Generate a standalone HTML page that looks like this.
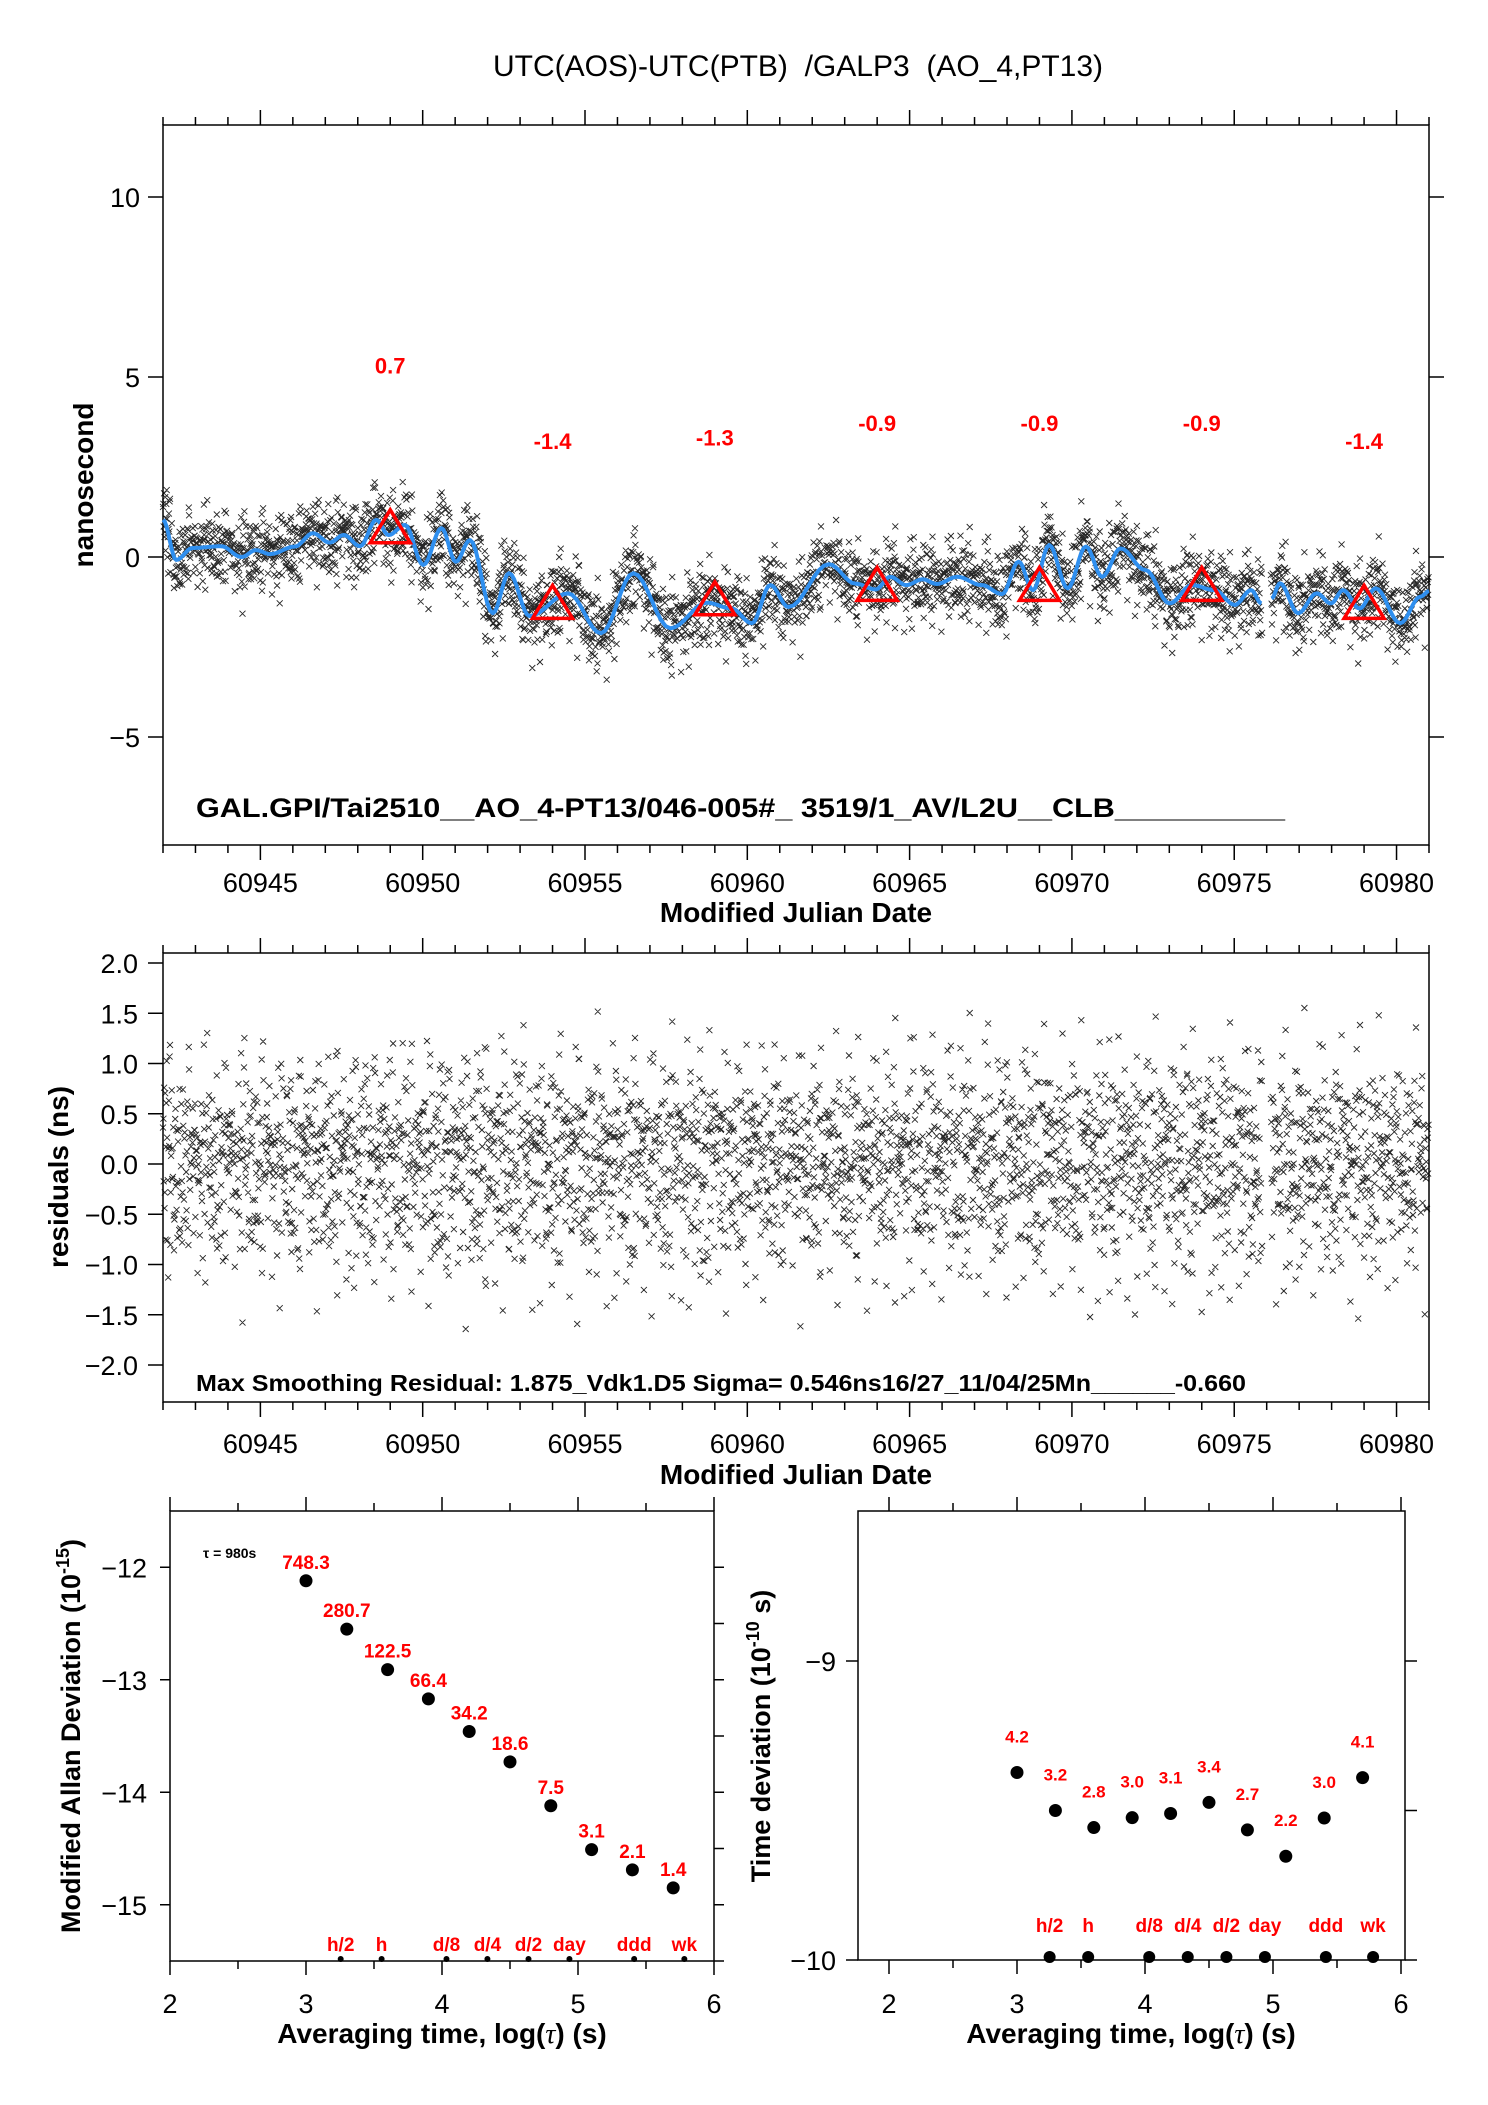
<!DOCTYPE html>
<html><head><meta charset="utf-8"><style>
html,body{margin:0;padding:0;background:#fff}
svg{display:block}
text{font-family:"Liberation Sans",Arial,sans-serif}
</style></head><body>
<svg id="svg" xmlns="http://www.w3.org/2000/svg" width="1488" height="2105" viewBox="0 0 1488 2105">
<rect x="0" y="0" width="1488" height="2105" fill="#fff"/>
<text x="798" y="76" text-anchor="middle" font-size="30" xml:space="preserve">UTC(AOS)-UTC(PTB)  /GALP3  (AO_4,PT13)</text>
<g id="g"></g>
</svg>
<script>
// ---- data ----
const curveMJD=[60942.0,60942.41,60942.91,60943.79,60944.42,60944.86,60945.30,60946.06,60946.62,60947.13,60947.57,60948.07,60948.57,60948.95,60949.45,60950.02,60950.58,60951.02,60951.46,60952.16,60952.66,60953.29,60954.48,60955.49,60956.49,60957.63,60958.76,60959.51,60960.14,60960.71,60961.27,60962.51,60963.33,60963.96,60964.40,60964.90,60965.40,60965.84,60966.47,60967.22,60967.85,60968.36,60968.80,60969.30,60969.87,60970.43,60970.93,60971.50,60972.26,60973.01,60973.70,60974.39,60975.02,60975.52,60975.84,60976.15,60976.41,60976.97,60977.54,60977.98,60978.35,60978.86,60979.36,60980.11,60980.74,60981.0];
const curveVal=[1.03,-0.08,0.25,0.30,0.00,0.19,0.08,0.29,0.66,0.40,0.61,0.30,1.03,0.61,0.89,-0.22,0.80,-0.13,0.47,-1.56,-0.45,-1.64,-1.01,-2.12,-0.45,-1.98,-1.27,-1.43,-1.84,-0.78,-1.39,-0.20,-0.74,-0.90,-0.55,-0.78,-0.62,-0.75,-0.55,-0.78,-1.03,-0.13,-0.92,0.33,-0.87,0.29,-0.55,0.24,-0.36,-1.29,-0.78,-0.92,-1.33,-0.92,-1.29,-1.15,-0.73,-1.56,-1.01,-1.29,-0.92,-1.43,-0.87,-1.84,-1.10,-0.95];
const gapStart=60975.86, gapEnd=60976.12;
const triMJD=[60949,60954,60959,60964,60969,60974,60979];
const triVal=[0.7,-1.4,-1.3,-0.9,-0.9,-0.9,-1.4];
const triLabels=["0.7","-1.4","-1.3","-0.9","-0.9","-0.9","-1.4"];
const resA=[0.31,-0.42,0.08,0.77,-0.15,-0.63,0.24,0.52,-0.91,0.12,-0.27,0.45,1.08,-0.36,0.03,-0.74,0.61,-0.05,0.29,-1.12,0.18,0.66,-0.48,-0.09,0.37,0.94,-0.58,0.14,-0.21,0.49,-0.83,0.06,1.31,-0.33,0.22,-0.55,0.71,-0.12,0.41,-1.02,0.27,-0.18,0.58,0.09,-0.69,0.35,-0.39,0.83,-0.04,-0.87,0.19,0.47,-1.41,0.26,-0.24,0.63,0.01,-0.51,0.99,-0.29,0.11,-0.78,0.39,0.55,-0.13,-0.97,0.21,0.72,-0.45,0.04,1.18,-0.61,0.33,-0.08,-0.35,0.86,-0.71,0.16,0.43,-1.24,0.28,-0.19,0.68,-0.02,-0.57,0.13,1.45,-0.47,0.23,-0.88,0.51,0.07,-0.31,0.79,-0.66,0.17,-0.11,0.36,-1.55,0.62,-0.26];
const resB=[0.22,-0.35,0.41,-0.12,0.05,-0.48,0.63,-0.27,0.14,-0.56,0.33,0.02,-0.19,0.47,-0.66,0.28,-0.08,0.55,-0.38,0.11,-0.24,0.71,-0.44,0.17,-0.03,0.39,-0.61,0.25,-0.15,0.52,-0.31,0.08,-0.72,0.44,-0.21,0.36,-0.05,-0.49,0.19,0.6,-0.33,0.12,-0.26,0.49,-0.58,0.07,0.31,-0.17,0.42,-0.4,0.16,-0.1,0.27];
const stepDay=980/86400;
const adevX=[3.0,3.3,3.6,3.9,4.2,4.5,4.8,5.1,5.4,5.7];
const adevY=[-12.12,-12.55,-12.91,-13.17,-13.46,-13.73,-14.12,-14.51,-14.69,-14.85];
const adevLabels=["748.3","280.7","122.5","66.4","34.2","18.6","7.5","3.1","2.1","1.4"];
const tdevY=[-9.373,-9.50,-9.557,-9.524,-9.51,-9.473,-9.565,-9.653,-9.525,-9.39];
const tdevLabels=["4.2","3.2","2.8","3.0","3.1","3.4","2.7","2.2","3.0","4.1"];
const markNames=["h/2","h","d/8","d/4","d/2","day","ddd","wk"];
const markX=[3.255,3.556,4.033,4.334,4.636,4.937,5.413,5.782];
const mjdTicks=[60945,60950,60955,60960,60965,60970,60975,60980];
const topYTicks=[10,5,0,-5];
const midYTicks=[2.0,1.5,1.0,0.5,0.0,-0.5,-1.0,-1.5,-2.0];
const logTicks=[2,3,4,5,6];
const adevYTicks=[-12,-13,-14,-15];
const tdevYTicks=[-9,-10];

// ---- scales ----
const tx=m=>163+(m-60942)*(1429-163)/39;
const tyTop=v=>557-v*36;
const tyMid=v=>1164-v*100.5;
const bx=l=>170+(l-2)*136;
const byL=v=>1511+(-11.5-v)*112.5;
const rx=l=>889+(l-2)*128;
const ryR=v=>1960-(v+10)*299;

const NS="http://www.w3.org/2000/svg";
const G=document.getElementById('g');
function el(tag,attrs,parent){const e=document.createElementNS(NS,tag);for(const k in attrs)e.setAttribute(k,attrs[k]);(parent||G).appendChild(e);return e;}
function txt(s,attrs,parent){const e=el('text',attrs,parent);e.textContent=s;return e;}
function lineD(x1,y1,x2,y2){return `M${x1},${y1}L${x2},${y2}`;}

function frame(x0,y0,x1,y1,name){
  const r=el('rect',{x:x0,y:y0,width:x1-x0,height:y1-y0,fill:'none',stroke:'#000','stroke-width':1.5});
  
  
}
frame(163,125,1429,845,'top-plot-frame');
frame(163,953,1429,1402,'residual-plot-frame');
frame(170,1511,714,1961,'adev-plot-frame');
frame(858,1511,1405,1960,'tdev-plot-frame');

function mjdAxis(yTop,yBot,labelY,titleY,name){
  let d='';
  for(let m=60942;m<=60981;m++){
    const x=tx(m);const major=(m%5===0);const L=major?15:8;
    d+=lineD(x,yTop,x,yTop-L)+lineD(x,yBot,x,yBot+L);
  }
  const p=el('path',{d:d,stroke:'#000','stroke-width':1.5,fill:'none'});
  
  
  mjdTicks.forEach(m=>{
    const t=txt(String(m),{x:tx(m),y:labelY,'text-anchor':'middle','font-size':27});
    
    
  });
  const t=txt('Modified Julian Date',{x:796,y:titleY,'text-anchor':'middle','font-size':28,'font-weight':'bold'});
  
  
}
mjdAxis(125,845,899-7,929-7,'top');
mjdAxis(953,1402,1460-7,1491-7,'residual');

(function(){
  let d='';
  topYTicks.forEach(v=>{const y=tyTop(v);d+=lineD(148,y,163,y)+lineD(1429,y,1444,y);});
  const p=el('path',{d:d,stroke:'#000','stroke-width':1.5});
  
  
  topYTicks.forEach(v=>{
    const t=txt(v<0?'\u2212'+Math.abs(v):String(v),{x:140,y:tyTop(v)+10,'text-anchor':'end','font-size':27});
    
    
  });
  const t=txt('nanosecond',{transform:'translate(93,485) rotate(-90)','text-anchor':'middle','font-size':28,'font-weight':'bold'});
  
  
})();
(function(){
  let d='';
  midYTicks.forEach(v=>{const y=tyMid(v);d+=lineD(148,y,163,y);});
  const p=el('path',{d:d,stroke:'#000','stroke-width':1.5});
  
  
  midYTicks.forEach(v=>{
    const s=(v<0?'\u2212':'')+Math.abs(v).toFixed(1);
    const t=txt(s,{x:138,y:tyMid(v)+10,'text-anchor':'end','font-size':27});
    
    
  });
  const t=txt('residuals (ns)',{transform:'translate(68,1177) rotate(-90)','text-anchor':'middle','font-size':28,'font-weight':'bold'});
  
  
})();

function curveAt(m){
  for(let i=0;i<curveMJD.length-1;i++){
    if(m>=curveMJD[i]&&m<=curveMJD[i+1]){const f=(m-curveMJD[i])/(curveMJD[i+1]-curveMJD[i]);const g=(1-Math.cos(Math.PI*f))/2;return curveVal[i]+g*(curveVal[i+1]-curveVal[i]);}
  }
  return curveVal[curveVal.length-1];
}
(function(){
  let dTop='',dMid='';const s=3;
  const n=Math.floor(39/stepDay);
  for(let i=0;i<n;i++){
    const m=60942+i*stepDay;
    if(m>gapStart&&m<gapEnd)continue;
    const r=resA[(i*7)%resA.length]*0.85+resB[(i*11)%resB.length]*0.45;
    const x=tx(m);
    const y1=tyTop(curveAt(m)+r);
    const y2=tyMid(r);
    dTop+=`M${(x-s).toFixed(1)},${(y1-s).toFixed(1)}l${2*s},${2*s}m0,${-2*s}l${-2*s},${2*s}`;
    if(y2>955&&y2<1400)dMid+=`M${(x-s).toFixed(1)},${(y2-s).toFixed(1)}l${2*s},${2*s}m0,${-2*s}l${-2*s},${2*s}`;
  }
  const p1=el('path',{d:dTop,stroke:'#000','stroke-width':0.9,fill:'none','stroke-opacity':0.85});
  
  
  const p2=el('path',{d:dMid,stroke:'#000','stroke-width':0.9,fill:'none','stroke-opacity':0.85});
  
  
})();

// smooth curve: cosine-eased interpolation between read points
(function(){
  let d='';
  for(let i=0;i<curveMJD.length-1;i++){
    const a=curveMJD[i],b=curveMJD[i+1];
    if(a<=gapStart&&b>=gapEnd){continue;}
    const startNew=(i===0)||(curveMJD[i-1]<=gapStart&&a>=gapEnd);
    if(startNew)d+='M'+tx(a).toFixed(1)+','+tyTop(curveVal[i]).toFixed(1);
    for(let k=1;k<=8;k++){
      const f=k/8,g=(1-Math.cos(Math.PI*f))/2;
      const m=a+f*(b-a),v=curveVal[i]+g*(curveVal[i+1]-curveVal[i]);
      d+='L'+tx(m).toFixed(1)+','+tyTop(v).toFixed(1);
    }
  }
  const p=el('path',{d:d,stroke:'#2f8fef','stroke-width':4,fill:'none','stroke-linejoin':'round'});
  
  
})();

triMJD.forEach((m,i)=>{
  const x=tx(m),cy=tyTop(triVal[i]);
  const h=33,w=40;
  const pts=`${x},${cy-2*h/3} ${x-w/2},${cy+h/3} ${x+w/2},${cy+h/3}`;
  const p=el('polygon',{points:pts,fill:'none',stroke:'#f00','stroke-width':3.5});
  
  
  const t=txt(triLabels[i],{x:x,y:tyTop(triVal[i]+4.65)+9,'text-anchor':'middle','font-size':22,'font-weight':'bold',fill:'#f00'});
  
  
});

(function(){
  const t=txt('GAL.GPI/Tai2510__AO_4-PT13/046-005#_  3519/1_AV/L2U__CLB__________',{x:196,y:817,'font-size':27,'font-weight':'bold',textLength:1089,lengthAdjust:'spacingAndGlyphs','xml:space':'preserve'});
  
  
  const t2=txt('Max Smoothing Residual: 1.875_Vdk1.D5  Sigma= 0.546ns16/27_11/04/25Mn______-0.660',{x:196,y:1391,'font-size':23,'font-weight':'bold',textLength:1050,lengthAdjust:'spacingAndGlyphs','xml:space':'preserve'});
  
  
})();

function logAxis(sx,yTop,yBot,labelY,titleY,titleX,name){
  let d='';
  for(let l=2;l<=6;l+=0.5){
    const x=sx(l);const L=(l%1===0)?14:8;
    d+=lineD(x,yTop,x,yTop-L)+lineD(x,yBot,x,yBot+L);
  }
  const p=el('path',{d:d,stroke:'#000','stroke-width':1.5});
  
  
  logTicks.forEach(l=>{
    const t=txt(String(l),{x:sx(l),y:labelY,'text-anchor':'middle','font-size':27});
    
    
  });
  const t=txt('',{x:titleX,y:titleY,'text-anchor':'middle','font-size':28,'font-weight':'bold'});
  
  
  t.appendChild(document.createTextNode('Averaging time, log('));
  const ts=el('tspan',{'font-family':'Liberation Serif, serif','font-style':'italic','font-weight':'normal'},t);ts.textContent='\u03c4';
  t.appendChild(document.createTextNode(') (s)'));
}
logAxis(bx,1511,1961,2023-10,2056-13,442,'adev');
logAxis(rx,1511,1960,2023-10,2056-13,1131,'tdev');

(function(){
  let d='';
  adevYTicks.forEach(v=>{const y=byL(v);d+=lineD(160,y,170,y);});
  for(let v=-12;v>=-15.5;v-=0.5){const y=byL(v);d+=lineD(714,y,724,y);}
  const p=el('path',{d:d,stroke:'#000','stroke-width':1.5});
  
  
  adevYTicks.forEach(v=>{
    const t=txt('\u2212'+Math.abs(v),{x:147,y:byL(v)+10,'text-anchor':'end','font-size':27});
    
    
  });
  const t=txt('Modified Allan Deviation (10',{transform:'translate(80,1736) rotate(-90)','text-anchor':'middle','font-size':27,'font-weight':'bold'});
  
  
  const s1=el('tspan',{'font-size':18,dy:-11},t);s1.textContent='-15';
  const s2=el('tspan',{dy:11},t);s2.textContent=')';
  const tau=txt('\u03c4 = 980s',{x:203,y:1558,'font-size':14,'font-weight':'bold'});
  
  
})();
adevX.forEach((l,i)=>{
  const c=el('circle',{cx:bx(l),cy:byL(adevY[i]),r:6.5,fill:'#000'});
  
  
  const t=txt(adevLabels[i],{x:bx(l),y:byL(adevY[i])-12,'text-anchor':'middle','font-size':19,'font-weight':'bold',fill:'#f00'});
  
  
});
markX.forEach((l,i)=>{
  const c=el('circle',{cx:bx(l),cy:1959,r:3,fill:'#000'});
  
  
  const t=txt(markNames[i],{x:bx(l),y:1951,'text-anchor':'middle','font-size':19,'font-weight':'bold',fill:'#f00'});
  
  
});

(function(){
  let d='';
  tdevYTicks.forEach(v=>{const y=ryR(v);d+=lineD(846,y,858,y);});
  [-9,-9.5,-10].forEach(v=>{const y=ryR(v);d+=lineD(1405,y,1417,y);});
  const p=el('path',{d:d,stroke:'#000','stroke-width':1.5});
  
  
  tdevYTicks.forEach(v=>{
    const t=txt('\u2212'+Math.abs(v),{x:836,y:ryR(v)+10,'text-anchor':'end','font-size':27});
    
    
  });
  const t=txt('Time deviation (10',{transform:'translate(770,1736) rotate(-90)','text-anchor':'middle','font-size':27,'font-weight':'bold'});
  
  
  const s1=el('tspan',{'font-size':18,dy:-11},t);s1.textContent='-10';
  const s2=el('tspan',{dy:11},t);s2.textContent=' s)';
})();
adevX.forEach((l,i)=>{
  const c=el('circle',{cx:rx(l),cy:ryR(tdevY[i]),r:6.5,fill:'#000'});
  
  
  const t=txt(tdevLabels[i],{x:rx(l),y:ryR(tdevY[i])-30,'text-anchor':'middle','font-size':17,'font-weight':'bold',fill:'#f00'});
  
  
});
markX.forEach((l,i)=>{
  const c=el('circle',{cx:rx(l),cy:1957,r:6,fill:'#000'});
  
  
  const t=txt(markNames[i],{x:rx(l),y:1932,'text-anchor':'middle','font-size':19,'font-weight':'bold',fill:'#f00'});
  
  
});
</script>
</body></html>
